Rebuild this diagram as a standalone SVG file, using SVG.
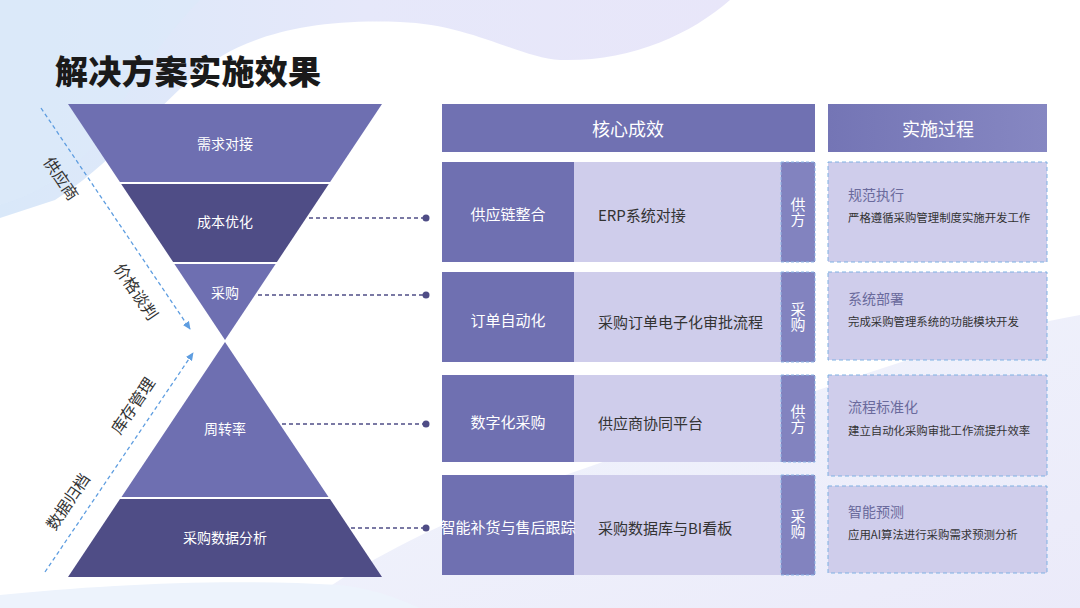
<svg xmlns="http://www.w3.org/2000/svg" width="1080" height="608" viewBox="0 0 1080 608">
<defs>
<linearGradient id="bgTop" x1="0" y1="0" x2="1" y2="0">
<stop offset="0" stop-color="#d9e8f9"/>
<stop offset="0.5" stop-color="#e6e8fa"/>
<stop offset="1" stop-color="#e8e6f9"/>
</linearGradient>
<linearGradient id="bgBot" x1="0" y1="0" x2="1" y2="1">
<stop offset="0" stop-color="#eef3fc"/>
<stop offset="1" stop-color="#e6e5f8"/>
</linearGradient>
<linearGradient id="hdr2" x1="0" y1="0" x2="1" y2="0">
<stop offset="0" stop-color="#7475b5"/>
<stop offset="1" stop-color="#8687c2"/>
</linearGradient>
<marker id="arr" viewBox="0 0 10 10" refX="8" refY="5" markerWidth="7" markerHeight="7" orient="auto">
<path d="M0,1 L9,5 L0,9 Z" fill="#5e9de0"/>
</marker>
<style>
.txt{font-family:"Noto Sans CJK SC","Noto Sans",sans-serif;}
.lt{fill:#6e6fb1;}
.dk{fill:#4f4d86;}
.cellD{fill:#6f70b1;}
.cellL{fill:#cfcdeb;}
.side{fill:#8283bf;stroke:#8db6e6;stroke-width:1;stroke-dasharray:3 2;}
.box{fill:#cfcdeb;stroke:#7fb1e3;stroke-width:1;stroke-dasharray:4 3;}
.conn{stroke:#4f4d86;stroke-width:1.5;stroke-dasharray:4 3;fill:none;}
.dot{fill:#4f4d86;}
.guide{stroke:#5e9de0;stroke-width:1.3;stroke-dasharray:4 3;fill:none;}
.lbl{font-size:14px;fill:#ffffff;text-anchor:middle;dominant-baseline:central;}
.cl{font-size:15px;fill:#ffffff;text-anchor:middle;dominant-baseline:central;}
.cm{font-size:15px;fill:#333333;dominant-baseline:central;}
.sv{font-size:15px;fill:#ffffff;text-anchor:middle;writing-mode:vertical-rl;}
.bt{font-size:14px;fill:#6a6a9c;dominant-baseline:central;}
.bs{font-size:11.4px;fill:#333333;dominant-baseline:central;}
.side-lbl{font-size:16px;fill:#333333;text-anchor:middle;dominant-baseline:central;}
.hd{font-size:18px;fill:#ffffff;text-anchor:middle;dominant-baseline:central;}
</style>
</defs>

<rect width="1080" height="608" fill="#ffffff"/>
<g id="background">
<path d="M0,0 H730 C690,35 630,62 560,60 C520,58 470,24 400,22 C300,18 235,40 195,75 C150,115 110,165 55,200 L0,218 Z" fill="url(#bgTop)"/>
<path d="M0,0 H200 C160,40 130,90 97,141 C70,175 35,195 0,205 Z" fill="#dbe9f9" opacity="0.7"/>
<path d="M300,608 C360,560 480,500 640,450 C800,400 940,340 1080,315 V608 Z" fill="url(#bgBot)" opacity="0.8"/>
<path d="M0,608 V595 C100,585 220,578 340,585 C380,590 400,600 420,608 Z" fill="#edf3fc"/>
</g>

<text class="txt" x="55" y="84" font-size="33" font-weight="900" fill="#1a1a1a" textLength="266">解决方案实施效果</text>

<g id="guides">
<line class="guide" x1="41" y1="108" x2="190" y2="329" marker-end="url(#arr)"/>
<line class="guide" x1="45" y1="572" x2="193" y2="353" marker-end="url(#arr)"/>
<text class="txt side-lbl" transform="translate(62,178) rotate(56)">供应商</text>
<text class="txt side-lbl" transform="translate(137,291) rotate(56)">价格谈判</text>
<text class="txt side-lbl" transform="translate(132,405) rotate(-56)">库存管理</text>
<text class="txt side-lbl" transform="translate(67,501) rotate(-56)">数据归档</text>
</g>

<g id="funnel-top">
<g id="node-xuqiu"><polygon class="lt" points="68,104 382,104 330.1,182 119.9,182"/><text class="txt lbl" x="225" y="143">需求对接</text></g>
<g id="node-chengben"><polygon class="dk" points="121.2,184 328.8,184 276.9,262 173.1,262"/><text class="txt lbl" x="225" y="221">成本优化</text></g>
<g id="node-caigou"><polygon class="lt" points="174.4,264 275.6,264 225,340"/><text class="txt lbl" x="225" y="292">采购</text></g>
</g>
<g id="funnel-bottom">
<g id="node-zhouzhuan"><polygon class="lt" points="225,342 328.5,497 121.5,497"/><text class="txt lbl" x="225" y="428">周转率</text></g>
<g id="node-shuju"><polygon class="dk" points="120,499 330,499 382,577 68,577"/><text class="txt lbl" x="225" y="537">采购数据分析</text></g>
</g>

<g id="connectors">
<line class="conn" x1="309" y1="218" x2="424" y2="218"/><circle class="dot" cx="426" cy="218" r="3.5"/>
<line class="conn" x1="258" y1="295" x2="424" y2="295"/><circle class="dot" cx="426" cy="295" r="3.5"/>
<line class="conn" x1="282" y1="424" x2="424" y2="424"/><circle class="dot" cx="426" cy="424" r="3.5"/>
<line class="conn" x1="351" y1="528" x2="424" y2="528"/><circle class="dot" cx="426" cy="528" r="3.5"/>
</g>

<g id="header-core"><rect x="442" y="104" width="373" height="48" fill="#7071b2"/><text class="txt hd" x="628" y="128">核心成效</text></g>
<g id="header-process"><rect x="828" y="104" width="219" height="48" fill="url(#hdr2)"/><text class="txt hd" x="938" y="128">实施过程</text></g>

<g id="row1">
<rect class="cellD" x="442" y="162" width="132" height="100"/>
<rect class="cellL" x="574" y="162" width="207" height="100"/>
<rect class="side" x="781" y="162" width="34" height="100"/>
<text class="txt cl" x="508" y="213">供应链整合</text>
<text class="txt cm" x="598" y="214">ERP系统对接</text>
<text class="txt sv" x="798" y="212">供方</text>
</g>
<g id="row2">
<rect class="cellD" x="442" y="272" width="132" height="90"/>
<rect class="cellL" x="574" y="272" width="207" height="90"/>
<rect class="side" x="781" y="272" width="34" height="90"/>
<text class="txt cl" x="508" y="319">订单自动化</text>
<text class="txt cm" x="598" y="321">采购订单电子化审批流程</text>
<text class="txt sv" x="798" y="317">采购</text>
</g>
<g id="row3">
<rect class="cellD" x="442" y="375" width="132" height="87"/>
<rect class="cellL" x="574" y="375" width="207" height="87"/>
<rect class="side" x="781" y="375" width="34" height="87"/>
<text class="txt cl" x="508" y="421">数字化采购</text>
<text class="txt cm" x="598" y="422">供应商协同平台</text>
<text class="txt sv" x="798" y="419">供方</text>
</g>
<g id="row4">
<rect class="cellD" x="442" y="475" width="132" height="100"/>
<rect class="cellL" x="574" y="475" width="207" height="100"/>
<rect class="side" x="781" y="475" width="34" height="100"/>
<text class="txt cl" x="508" y="526">智能补货与售后跟踪</text>
<text class="txt cm" x="598" y="527">采购数据库与BI看板</text>
<text class="txt sv" x="798" y="524">采购</text>
</g>

<g id="step1"><rect class="box" x="828" y="162" width="219" height="100"/><text class="txt bt" x="848" y="194">规范执行</text><text class="txt bs" x="848" y="217">严格遵循采购管理制度实施开发工作</text></g>
<g id="step2"><rect class="box" x="828" y="272" width="219" height="88"/><text class="txt bt" x="848" y="298">系统部署</text><text class="txt bs" x="848" y="321">完成采购管理系统的功能模块开发</text></g>
<g id="step3"><rect class="box" x="828" y="375" width="219" height="101"/><text class="txt bt" x="848" y="406">流程标准化</text><text class="txt bs" x="848" y="430">建立自动化采购审批工作流提升效率</text></g>
<g id="step4"><rect class="box" x="828" y="486" width="219" height="87"/><text class="txt bt" x="848" y="511">智能预测</text><text class="txt bs" x="848" y="534">应用AI算法进行采购需求预测分析</text></g>
</svg>
